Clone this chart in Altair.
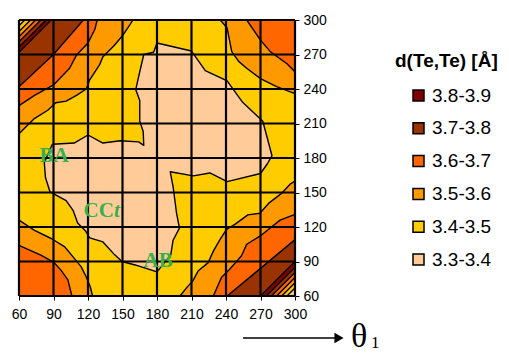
import altair as alt
import pandas as pd

# ---------------- data ----------------
ticks = [60, 90, 120, 150, 180, 210, 240, 270, 300]

bands = ["3.8-3.9", "3.7-3.8", "3.6-3.7", "3.5-3.6", "3.4-3.5", "3.3-3.4"]
band_colors = ["#800000", "#993300", "#FF6600", "#FF9900", "#FFCC00", "#FFCC99"]

# 3.4 contour: closed boundary of the 3.3-3.4 region (theta1, theta2 in degrees)
c34_x = [89, 108, 120, 133, 148, 164, 168.5, 168, 165, 165, 161.5, 165, 168.5, 177, 180,
         210, 222, 241, 254, 272, 280, 276, 270, 241, 226, 211.5, 191.5, 194, 197, 199.5,
         194, 192, 180, 161, 149.5, 143, 133, 121.5, 117.5, 111, 107, 101, 87, 83, 82, 89]
c34_y = [192, 193, 200, 193, 195, 194, 191, 203, 212, 230, 239.5, 255, 270, 272, 280,
         273, 256, 247, 229, 212, 182, 175, 166.5, 159.5, 167, 164.5, 168, 155, 132, 119,
         108.5, 96, 81, 87, 90, 96, 107, 110.5, 117, 123.5, 134.5, 143, 150.5, 163, 176, 192]

# corner contours (from one plot edge to the other)
tl35_x = [60, 73, 85, 92, 101, 110, 118.5, 121.5, 130, 133, 143, 150.5, 156.5, 159]
tl35_y = [201, 214, 221.5, 228, 229.5, 234.5, 240, 248, 261, 268, 278, 287, 296, 300]
tl36_x = [60, 73.5, 90, 104, 110, 120, 126, 128]
tl36_y = [225.5, 234.5, 243.5, 258, 269.5, 280, 292, 300]
tl37_x = [60, 90, 116]
tl37_y = [242, 270, 300]
tl38_x = [60, 88]
tl38_y = [272, 300]

tr35_x = [235, 241, 245, 251, 258, 270, 284, 300]
tr35_y = [300, 293, 272.5, 264, 258, 249, 242, 236]
tr36_x = [258, 270, 278.5, 293, 300]
tr36_y = [300, 282.5, 272.5, 262, 255]

bl35_x = [60, 73.5, 88, 99.5, 107, 114, 118.5, 122, 124]
bl35_y = [126, 117, 110, 103, 94, 85.5, 76.5, 68, 60]
bl36_x = [60, 79, 90, 96.5, 102.5, 106]
bl36_y = [104, 95.5, 89.5, 82.5, 74, 60]

br35_x = [200, 206, 211, 216, 224.5, 229, 235, 240.5, 248, 259, 269.5, 277, 288, 295.5, 300]
br35_y = [60, 67.5, 73, 82, 89, 99, 109.5, 118, 122.5, 130.5, 132, 140.5, 149, 157, 160]
br36_x = [229, 236, 243, 253.5, 258, 269.5, 287, 300]
br36_y = [60, 76, 83, 95, 105, 112, 126, 131]
br37_x = [241, 270, 300]
br37_y = [60, 84, 109]
br38_x = [270, 300]
br38_y = [60, 90]

# contour levels above 3.9 squeezed into the two extreme corners
stripe_colors = ["#993300", "#FF6600", "#FF9900", "#FFCC00", "#FFCC99"]
tl_stripe_d = [23.5, 19, 14.5, 10, 5]
br_stripe_d = [25, 20.5, 16, 11.5, 7]

# conformer labels
lab_text = ["BA", "AB"]
lab_x = [90.5, 181]
lab_y = [181.5, 90.5]
cc_x, cc_y = [142.5], [134]

# ---------------- helpers ----------------
FONT = "Liberation Sans"
xs = alt.Scale(domain=[60, 300], nice=False, zero=False)
ys = alt.Scale(domain=[60, 300], nice=False, zero=False)
AX = alt.Axis(values=ticks, grid=False, domain=False, ticks=True, tickSize=4,
              tickColor="black", tickWidth=1, labelPadding=7, labelFont=FONT,
              labelFontSize=14, labelColor="black", title=None, orient="bottom",
              labelOverlap=False, labelFlush=False)
AY = alt.Axis(values=ticks, grid=False, domain=False, ticks=True, tickSize=4,
              tickColor="black", tickWidth=1, labelPadding=4, labelFont=FONT,
              labelFontSize=14, labelColor="black", title=None, orient="right",
              labelOverlap=False, labelFlush=False)


def X(f):
    return alt.X(f, scale=xs, axis=AX)


def Y(f):
    return alt.Y(f, scale=ys, axis=AY)


def poly_rows(pid, xs_, ys_, corner):
    pts = list(zip(xs_, ys_))
    if corner is not None:
        pts = pts + [corner]
    return [dict(poly=pid, i=k, x=p[0], y=p[1]) for k, p in enumerate(pts)]


def poly_layer(rows, color):
    df = pd.DataFrame(rows)
    return alt.Chart(df).mark_line(fill=color, stroke="black", strokeWidth=1.4,
                                   strokeJoin="round").encode(
        x=X("x:Q"), y=Y("y:Q"), detail="poly:N", order="i:Q")


layers = []

# background band 3.4-3.5
bg = alt.Chart(pd.DataFrame({"x": [60], "x1": [300], "y": [60], "y1": [300]})).mark_rect(
    color=band_colors[4]).encode(x=X("x:Q"), x2="x1:Q", y=Y("y:Q"), y2="y1:Q")
layers.append(bg)

layers.append(poly_layer(poly_rows("c34", c34_x, c34_y, None), band_colors[5]))
layers.append(poly_layer(
    poly_rows("tl", tl35_x, tl35_y, (60, 300)) + poly_rows("tr", tr35_x, tr35_y, (300, 300)) +
    poly_rows("bl", bl35_x, bl35_y, (60, 60)) + poly_rows("br", br35_x, br35_y, (300, 60)),
    band_colors[3]))
layers.append(poly_layer(
    poly_rows("tl", tl36_x, tl36_y, (60, 300)) + poly_rows("tr", tr36_x, tr36_y, (300, 300)) +
    poly_rows("bl", bl36_x, bl36_y, (60, 60)) + poly_rows("br", br36_x, br36_y, (300, 60)),
    band_colors[2]))
layers.append(poly_layer(
    poly_rows("tl", tl37_x, tl37_y, (60, 300)) + poly_rows("br", br37_x, br37_y, (300, 60)),
    band_colors[1]))
layers.append(poly_layer(
    poly_rows("tl", tl38_x, tl38_y, (60, 300)) + poly_rows("br", br38_x, br38_y, (300, 60)),
    band_colors[0]))
for k, col in enumerate(stripe_colors):
    d1, d2 = tl_stripe_d[k], br_stripe_d[k]
    rows = poly_rows("tl", [60, 60 + d1], [300 - d1, 300], (60, 300)) + \
        poly_rows("br", [300 - d2, 300], [60, 60 + d2], (300, 60))
    layers.append(poly_layer(rows, col))

# grid lines every 30 degrees
vgrid = pd.DataFrame({"x": ticks, "y": [60] * len(ticks), "y1": [300] * len(ticks)})
hgrid = pd.DataFrame({"y": ticks, "x": [60] * len(ticks), "x1": [300] * len(ticks)})
layers.append(alt.Chart(vgrid).mark_rule(color="black", strokeWidth=2.2).encode(
    x=X("x:Q"), y=Y("y:Q"), y2="y1:Q"))
layers.append(alt.Chart(hgrid).mark_rule(color="black", strokeWidth=2.2).encode(
    y=Y("y:Q"), x=X("x:Q"), x2="x1:Q"))

# conformer labels
green = "#36B04F"
lab_df = pd.DataFrame({"t": lab_text, "x": lab_x, "y": lab_y})
layers.append(alt.Chart(lab_df).mark_text(font="Liberation Serif", fontWeight="bold",
                                          fontSize=21, color=green, baseline="middle").encode(
    x=X("x:Q"), y=Y("y:Q"), text="t:N"))
cc_df = pd.DataFrame({"t": ["CC"], "x": cc_x, "y": cc_y})
layers.append(alt.Chart(cc_df).mark_text(font="Liberation Serif", fontWeight="bold",
                                         fontSize=21, color=green, baseline="middle",
                                         align="right").encode(
    x=X("x:Q"), y=Y("y:Q"), text="t:N"))
t_df = pd.DataFrame({"t": ["t"], "x": cc_x, "y": cc_y})
layers.append(alt.Chart(t_df).mark_text(font="Liberation Serif", fontWeight="bold",
                                        fontStyle="italic", fontSize=21, color=green,
                                        baseline="middle", align="left").encode(
    x=X("x:Q"), y=Y("y:Q"), text="t:N"))

# legend (drawn by Vega-Lite from a hidden layer)
leg_df = pd.DataFrame({"band": bands})
layers.append(alt.Chart(leg_df).mark_square(size=121, filled=True, stroke="black",
                                            strokeWidth=1.5).encode(
    x=alt.value(-2000), y=alt.value(-2000),
    color=alt.Color("band:N", scale=alt.Scale(domain=bands, range=band_colors),
                    legend=alt.Legend(title=None, orient="none", legendX=390, legendY=66,
                                      padding=0, symbolType="square", symbolSize=121,
                                      symbolStrokeColor="black", symbolStrokeWidth=1.5,
                                      symbolOpacity=1, labelFont=FONT,
                                      labelFontSize=19, labelColor="black", labelOffset=4,
                                      rowPadding=12.8))))

title_df = pd.DataFrame({"t": ["d(Te,Te) [Å]"]})
layers.append(alt.Chart(title_df).mark_text(font=FONT, fontWeight="bold",
                                            fontSize=19, align="left",
                                            baseline="alphabetic", color="black").encode(
    x=alt.value(376), y=alt.value(47), text="t:N"))

# theta_1 arrow
layers.append(alt.Chart(title_df).mark_rule(color="black", strokeWidth=1.5).encode(
    x=alt.value(224), x2=alt.value(318), y=alt.value(318)))
layers.append(alt.Chart(title_df).mark_point(shape="triangle-right", filled=True,
                                             color="black", size=110, opacity=1).encode(
    x=alt.value(320), y=alt.value(318)))
th_df = pd.DataFrame({"t": ["θ"]})
layers.append(alt.Chart(th_df).mark_text(font="Liberation Serif", fontSize=34, align="left",
                                         baseline="alphabetic", color="black").encode(
    x=alt.value(332), y=alt.value(327), text="t:N"))
one_df = pd.DataFrame({"t": ["1"]})
layers.append(alt.Chart(one_df).mark_text(font="Liberation Serif", fontSize=17, align="left",
                                          baseline="alphabetic", color="black").encode(
    x=alt.value(352), y=alt.value(328), text="t:N"))

chart = alt.layer(*layers).properties(
    width=276, height=276,
    autosize=alt.AutoSizeParams(type="none"),
    padding={"left": 11, "top": 12, "right": 206, "bottom": 59},
).configure_view(stroke=None).configure_axis(grid=False)

chart.save("out.html", embed_options={"renderer": "svg", "actions": False})
